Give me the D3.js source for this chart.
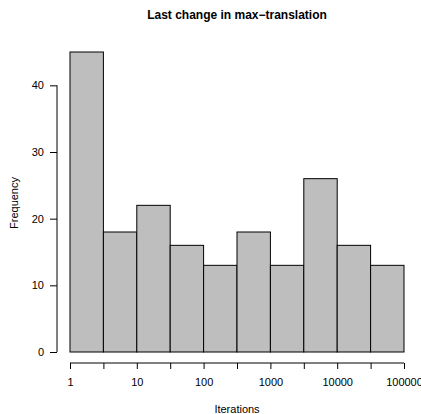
<!DOCTYPE html>
<html lang="en">
<head>
<meta charset="UTF-8">
<title>Last change in max-translation</title>
<script src="https://cdn.jsdelivr.net/npm/d3@7"></script>
<style>
  body { margin: 0; background: #fff; }
  text { font-family: "Liberation Sans", Arial, sans-serif; fill: #000; }
</style>
</head>
<body>
<script>
// histogram bins on log10(iterations), width 0.5
const binStarts = [0, 0.5, 1, 1.5, 2, 2.5, 3, 3.5, 4, 4.5]
const binWidth = 0.5
const counts = [45, 18, 22, 16, 13, 18, 13, 26, 16, 13]
const xTicks = [0, 0.5, 1, 1.5, 2, 2.5, 3, 3.5, 4, 4.5, 5]
const xLabels = ['1', '', '10', '', '100', '', '1000', '', '10000', '', '100000']
const yTicks = [0, 10, 20, 30, 40]

const [width, height] = [421, 414]
const svg = d3.select('body').append('svg')
    .attr('width', width)
    .attr('height', height)

const x = d3.scaleLinear().domain([0, 5]).range([70, 404])
const y = d3.scaleLinear().domain([0, 45]).range([352, 52])

// bars
svg.selectAll('rect.bar').data(counts).enter()
    .append('rect').attr('class', 'bar')
    .attr('x', (d, i) => x(binStarts[i]))
    .attr('y', d => y(d))
    .attr('width', (d, i) => x(binStarts[i] + binWidth) - x(binStarts[i]))
    .attr('height', d => y(0) - y(d))
    .attr('fill', '#bebebe')
    .attr('stroke', '#000')
    .attr('stroke-width', 1)

// x axis, R style: offset below the plot
const xAxis = d3.axisBottom(x)
    .tickValues(xTicks)
    .tickFormat((d, i) => xLabels[i])
    .tickSize(6)
    .tickPadding(9)
svg.append('g')
    .attr('transform', 'translate(0,363)')
    .call(xAxis)
    .call(g => g.select('.domain').attr('d', `M${x(0)},0H${x(5)}`))
    .call(g => g.selectAll('text').style('font-size', '11px').style('font-family', '"Liberation Sans", Arial, sans-serif'))

// y axis
const yAxis = d3.axisLeft(y)
    .tickValues(yTicks)
    .tickSize(7)
    .tickPadding(6)
svg.append('g')
    .attr('transform', 'translate(57,0)')
    .call(yAxis)
    .call(g => g.select('.domain').attr('d', `M0,${y(0)}V${y(40)}`))
    .call(g => g.selectAll('text').style('font-size', '11px').style('font-family', '"Liberation Sans", Arial, sans-serif'))

// titles
svg.append('text')
    .attr('x', 237).attr('y', 19)
    .attr('text-anchor', 'middle')
    .style('font-size', '12px').style('font-weight', 'bold')
    .text('Last change in max\u2212translation')

svg.append('text')
    .attr('x', 237).attr('y', 413)
    .attr('text-anchor', 'middle')
    .style('font-size', '11px')
    .text('Iterations')

svg.append('text')
    .attr('transform', 'translate(18,203) rotate(-90)')
    .attr('text-anchor', 'middle')
    .style('font-size', '11px')
    .text('Frequency')
</script>
</body>
</html>
